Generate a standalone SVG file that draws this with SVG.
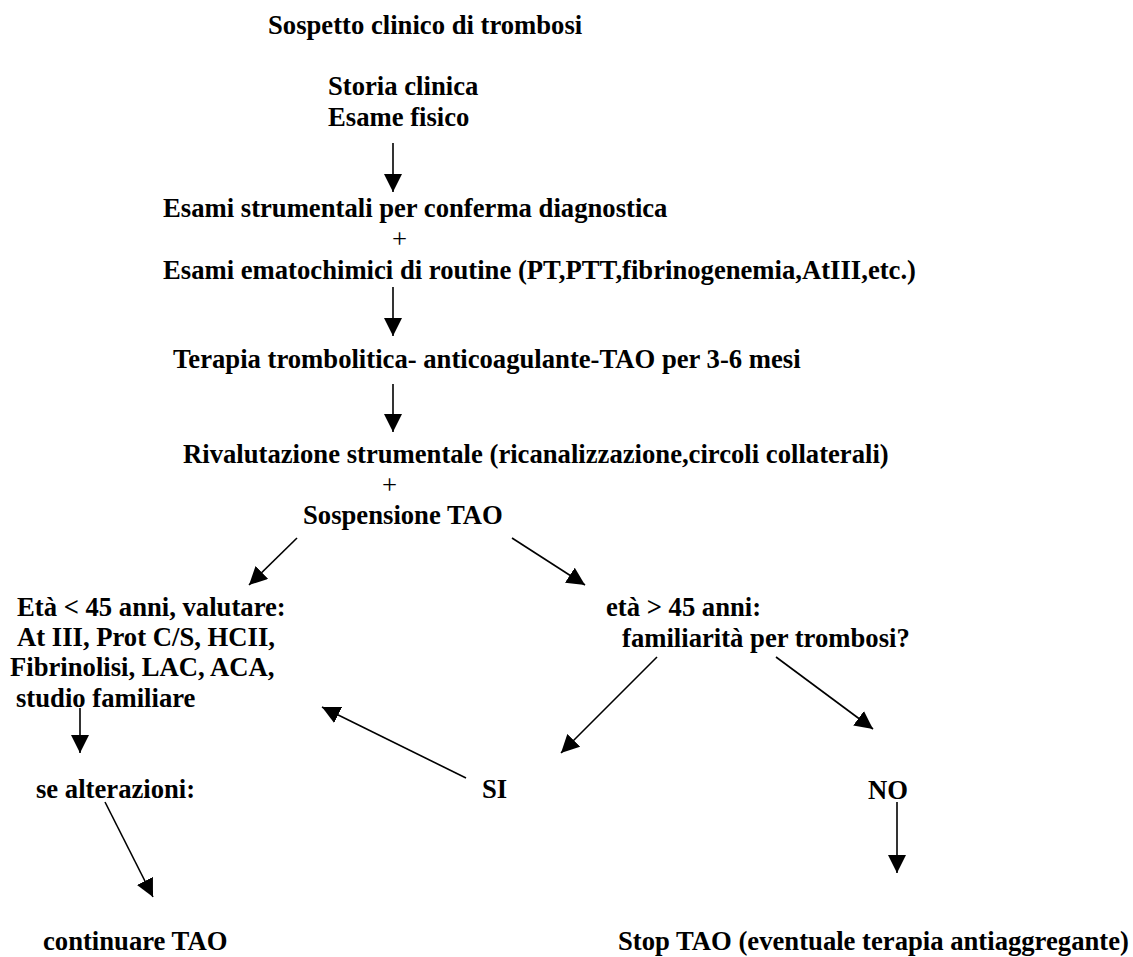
<svg xmlns="http://www.w3.org/2000/svg" width="1133" height="957" viewBox="0 0 1133 957">
<style>
text{font-family:"Liberation Serif","Times New Roman",serif;font-size:26.67px;font-weight:bold;fill:#000}
.plus{font-weight:normal}
.c line{stroke:#000;stroke-width:1.6;marker-end:url(#ah)}
</style>
<defs>
<marker id="ah" viewBox="0 0 18 18" refX="18" refY="9" markerWidth="18" markerHeight="18" markerUnits="userSpaceOnUse" orient="auto">
<path d="M0,0 L18,9 L0,18 z" fill="#000"/>
</marker>
</defs>
<rect width="1133" height="957" fill="#fff"/>
<g id="n-sospetto"><text x="268" y="34">Sospetto clinico di trombosi</text></g>
<g id="n-storia"><text x="328" y="95">Storia clinica</text><text x="328" y="126">Esame fisico</text></g>
<g id="n-esami"><text x="163" y="217">Esami strumentali per conferma diagnostica</text><text class="plus" x="392" y="248">+</text><text x="163" y="279">Esami ematochimici di routine (PT,PTT,fibrinogenemia,AtIII,etc.)</text></g>
<g id="n-terapia"><text x="173" y="368">Terapia trombolitica- anticoagulante-TAO per 3-6 mesi</text></g>
<g id="n-rivalutazione"><text x="183" y="463">Rivalutazione strumentale (ricanalizzazione,circoli collaterali)</text><text class="plus" x="382" y="494">+</text><text x="303" y="524">Sospensione TAO</text></g>
<g id="n-eta-minore"><text x="17" y="616">Età &lt; 45 anni, valutare:</text><text x="17" y="646">At III, Prot C/S, HCII,</text><text x="10" y="676">Fibrinolisi, LAC, ACA,</text><text x="16" y="707">studio familiare</text></g>
<g id="n-eta-maggiore"><text x="606" y="616">età &gt; 45 anni:</text><text x="622" y="647">familiarità per trombosi?</text></g>
<g id="n-alterazioni"><text x="36" y="798">se alterazioni:</text></g>
<g id="n-si"><text x="482" y="798">SI</text></g>
<g id="n-no"><text x="868" y="799">NO</text></g>
<g id="n-continuare"><text x="43" y="950">continuare TAO</text></g>
<g id="n-stop"><text x="618" y="950">Stop TAO (eventuale terapia antiaggregante)</text></g>
<g id="connectors" class="c">
<line x1="393" y1="143" x2="393" y2="192"/>
<line x1="393" y1="287" x2="393" y2="336"/>
<line x1="393" y1="384" x2="393" y2="432"/>
<line x1="297" y1="538" x2="249" y2="585"/>
<line x1="512" y1="538" x2="585" y2="585"/>
<line x1="80" y1="708" x2="80" y2="753"/>
<line x1="466" y1="778" x2="322" y2="707"/>
<line x1="657" y1="657" x2="561" y2="753"/>
<line x1="776" y1="657" x2="873" y2="729"/>
<line x1="105" y1="802" x2="153" y2="897"/>
<line x1="897" y1="802" x2="897" y2="873"/>
</g>
</svg>
